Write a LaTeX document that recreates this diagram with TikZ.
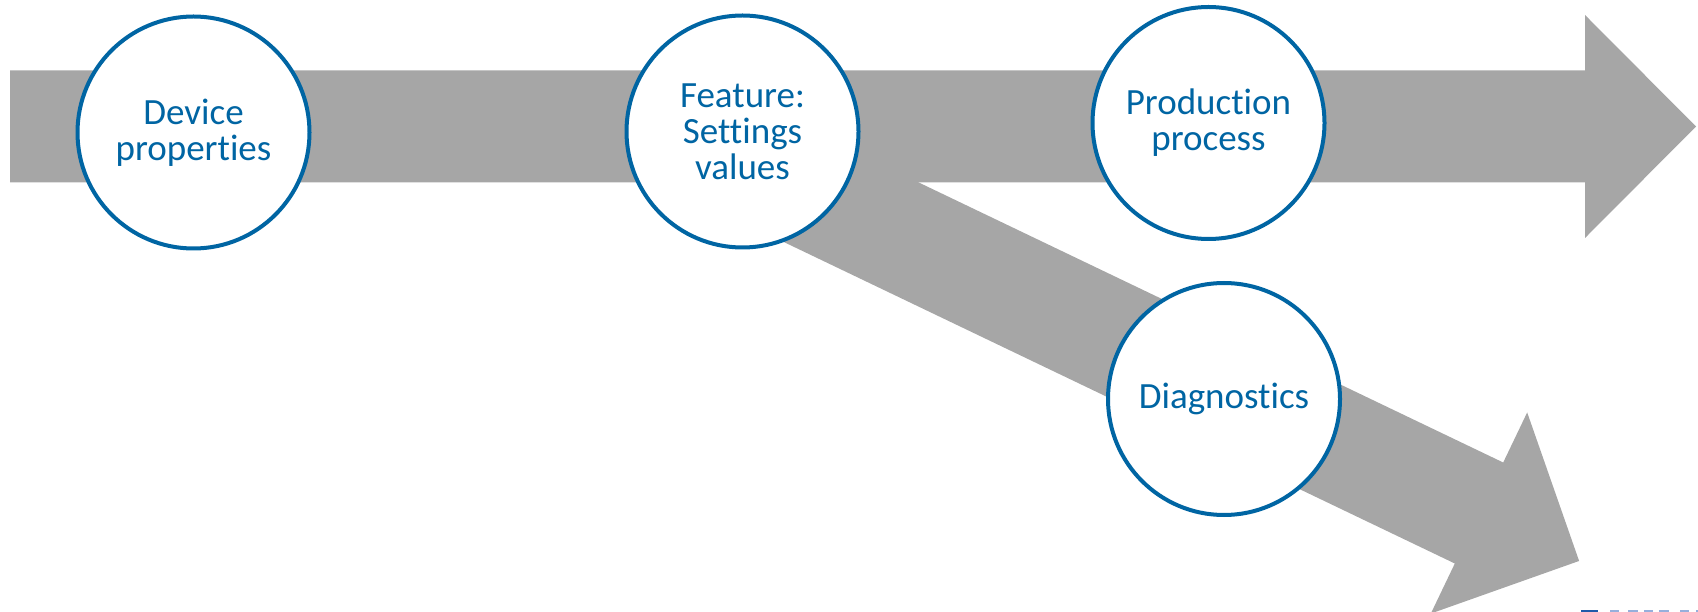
\documentclass[tikz,border=0pt]{standalone}
\usepackage{fontspec}
\setmainfont{Carlito}[Ligatures=NoCommon]
\definecolor{arrowgray}{RGB}{166,166,166}
\definecolor{stageblue}{RGB}{0,101,163}
\definecolor{logodark}{RGB}{30,90,170}
\definecolor{logolight}{RGB}{150,175,220}
\tikzset{
  stage/.style={circle, draw=stageblue, line width=4pt, fill=white,
    minimum size=232pt, inner sep=0pt, align=center, text=stageblue,
    font=\fontsize{37}{35.8}\selectfont},
  flow/.style={fill=arrowgray, draw=none}
}
\begin{document}
\begin{tikzpicture}[x=1pt,y=-1pt]
\useasboundingbox (0,0) rectangle (1698,612);
\clip (0,0) rectangle (1698,612);

% branch arrow going down to the right
\begin{scope}[shift={(1479,513)}, rotate=-25.6]
  \fill[flow] (-864,-56) -- (0,-56) -- (0,-111.5) -- (111,0) -- (0,111.5) -- (0,56) -- (-864,56) -- cycle;
\end{scope}

% main arrow
\begin{scope}[shift={(1585,126.5)}]
  \fill[flow] (-1575,-56) -- (0,-56) -- (0,-111.5) -- (111,0) -- (0,111.5) -- (0,56) -- (-1575,56) -- cycle;
\end{scope}

% stages
\node[stage] (device) at (193.5,132.5) {Device\\properties};
\node[stage] (feature) at (742.5,131.5) {Feature:\\Settings\\values};
\node[stage] (production) at (1208.5,123) {Production\\process};
\node[stage] (diagnostics) at (1224,399) {Diagnostics};

% edge of the logo strip
\fill[logodark] (1581,609.5) rectangle (1598,612);
\foreach \a/\b in {1610/1619, 1628/1638, 1644/1653, 1659/1669, 1680/1689, 1696/1698}
  \fill[logolight] (\a,609.5) rectangle (\b,612);
\end{tikzpicture}
\end{document}
